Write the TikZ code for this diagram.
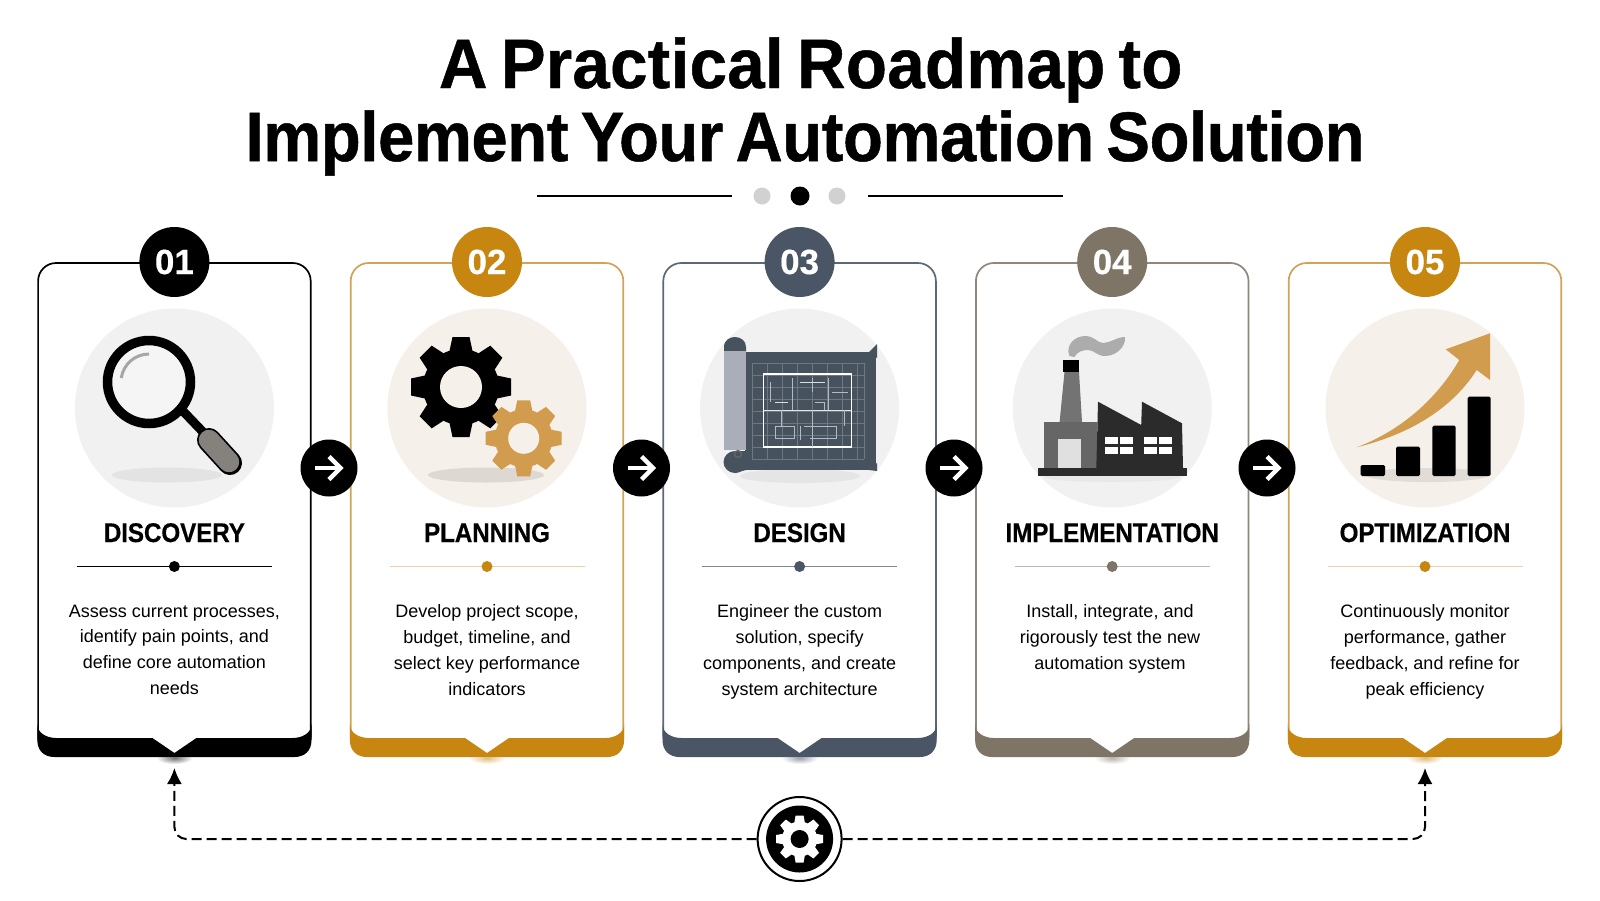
\documentclass[tikz,border=0pt]{standalone}
\usepackage{fontspec}
\usepackage{tikz}
\usetikzlibrary{arrows.meta}
\setmainfont{Liberation Sans}
\newfontfamily\headfonta[FakeBold=0.7,FakeStretch=0.96,LetterSpace=0.5,WordSpace=0.7]{Liberation Sans Bold}
\newfontfamily\headfontb[FakeBold=0.7,FakeStretch=0.93,LetterSpace=-0.5,WordSpace=0.7]{Liberation Sans Bold}
\newfontfamily\numfont[FakeBold=0.4]{Liberation Sans Bold}
\newfontfamily\namefont[FakeBold=0.4,FakeStretch=0.9,LetterSpace=-0.5]{Liberation Sans Bold}

\definecolor{inkblack}{HTML}{000000}
\definecolor{ochre}{HTML}{C6860F}
\definecolor{ochreline}{HTML}{D2A257}
\definecolor{ochrelight}{HTML}{D29C4E}
\definecolor{slate}{HTML}{4A5565}
\definecolor{slateline}{HTML}{5E6875}
\definecolor{taupe}{HTML}{7F7567}
\definecolor{taupeline}{HTML}{8F877B}
\definecolor{discgrey}{HTML}{F1F1F1}
\definecolor{discbeige}{HTML}{F5F0E9}
\definecolor{sheet}{HTML}{47525F}
\definecolor{sheetroll}{HTML}{A9AEB8}
\definecolor{handle}{HTML}{85827E}
\definecolor{sootdark}{HTML}{2B2B2B}

% card outline with its foot, x of the centre, outline colour, foot colour
\newcommand{\stepcard}[3]{
  \begin{scope}[shift={(#1,0)}]
    \shade[inner color=#3!55!white, outer color=white] (0,758) ellipse (18 and 6);
    \draw[#2, line width=1.7, fill=white, rounded corners=18] (-136.3,263) rectangle (136.3,754);
    \fill[#3] (-137.1,724) .. controls (-137.1,733) and (-128,738) .. (-118,738) -- (-22,738) -- (0,753) -- (22,738) -- (118,738)
      .. controls (128,738) and (137.1,733) .. (137.1,724) -- (137.1,740) .. controls (137.1,751) and (130,757) .. (120,757)
      -- (-120,757) .. controls (-130,757) and (-137.1,751) .. (-137.1,740) -- cycle;
  \end{scope}
}
% white arrow inside a round black node
\newcommand{\nextstep}[2]{
  \node[nextdisc] (#2) at (#1,468) {};
  \draw[white, line width=4.5] (#1-14,468) -- (#1+11,468);
  \draw[white, line width=4.5, line join=miter] (#1,456.5) -- (#1+11.5,468) -- (#1,479.5);
}
% gear: x, y, outer radius, root radius, hole radius, colour, hole colour
\newcommand{\gearicon}[7]{
  \begin{scope}[shift={(#1,#2)}]
    \fill[#6] (0,0) circle (#4);
    \foreach \a in {0,45,...,315} {
      \fill[#6, rotate=\a] (-0.23*#3,#4-2) -- (-0.17*#3,#3) -- (0.17*#3,#3) -- (0.23*#3,#4-2) -- cycle;
    }
    \fill[#7] (0,0) circle (#5);
  \end{scope}
}

\begin{document}
\begin{tikzpicture}[x=1pt,y=-1pt]
      \tikzstyle{headlinea}=[font=\headfonta\fontsize{70}{72}\selectfont, anchor=base, inner sep=0]
      \tikzstyle{headlineb}=[font=\headfontb\fontsize{70}{72}\selectfont, anchor=base, inner sep=0]
      \tikzstyle{badge}=[circle, minimum size=70, inner sep=0, text=white, font=\numfont\fontsize{35}{35}\selectfont]
      \tikzstyle{disc}=[circle, minimum size=199, inner sep=0]
      \tikzstyle{stepname}=[font=\namefont\fontsize{27}{27}\selectfont, anchor=base, inner sep=0]
      \tikzstyle{stepdesc}=[font=\fontsize{18}{25.8}\selectfont, align=center, anchor=north, inner sep=0, execute at begin node=\strut]
      \tikzstyle{nextdisc}=[circle, fill=black, minimum size=57, inner sep=0]
      \tikzstyle{tick}=[circle, minimum size=11, inner sep=0]
      \tikzstyle{looppath}=[black, line width=2, dash pattern=on 10pt off 5pt, rounded corners=12, -{Latex[length=16pt,width=15pt]}]

      \useasboundingbox (0,0) rectangle (1600,900);
      \fill[white] (0,0) rectangle (1600,900);

      % title
      \node[headlinea] (title1) at (810.7,88) {A Practical Roadmap to};
      \node[headlineb] (title2) at (805,161) {Implement Your Automation Solution};
      \draw[black, line width=2] (537,196) -- (732,196);
      \draw[black, line width=2] (868,196) -- (1063,196);
      \node[circle, fill=black!18, minimum size=17, inner sep=0] (dotl) at (762,196) {};
      \node[circle, fill=black, minimum size=19, inner sep=0] (dotm) at (800,196) {};
      \node[circle, fill=black!18, minimum size=17, inner sep=0] (dotr) at (837,196) {};

      % cards
      \stepcard{174.4}{inkblack}{inkblack}
      \stepcard{487}{ochreline}{ochre}
      \stepcard{799.6}{slateline}{slate}
      \stepcard{1112.2}{taupeline}{taupe}
      \stepcard{1425}{ochreline}{ochre}

      \node[badge, fill=inkblack] (badge1) at (174.4,262) {01};
      \node[badge, fill=ochre] (badge2) at (487,262) {02};
      \node[badge, fill=slate] (badge3) at (799.6,262) {03};
      \node[badge, fill=taupe] (badge4) at (1112.2,262) {04};
      \node[badge, fill=ochre] (badge5) at (1425,262) {05};

      \node[disc, fill=discgrey] (disc1) at (174.4,408) {};
      \node[disc, fill=discbeige] (disc2) at (487,408) {};
      \node[disc, fill=discgrey] (disc3) at (799.6,408) {};
      \node[disc, fill=discgrey] (disc4) at (1112.2,408) {};
      \node[disc, fill=discbeige] (disc5) at (1425,408) {};

      % magnifier
      \fill[black!11] (167,475) ellipse (55 and 7.5);
      \draw[black, line width=9] (181,409) -- (203,432);
      \draw[black, line width=24, line cap=round] (209,440) -- (230,463);
      \draw[handle, line width=20.5, line cap=round] (209,440) -- (229,462);
      \draw[black, line width=9.5, fill=white!96!black] (149,382) circle (41.5);
      \draw[black!35, line width=3] (149,354) arc (-90:-172:28);

      % gears
      \fill[black!10!discbeige] (486,475) ellipse (58 and 7.5);
      \gearicon{461}{387}{50}{38}{21}{black}{discbeige}
      \gearicon{523.7}{438.3}{38}{29}{15.5}{ochrelight}{discbeige}

      % blueprint
      \fill[black!10] (800,476) ellipse (60 and 7);
      \fill[sheet] (745,352) -- (876,352) -- (876,470) -- (745,470) -- cycle;
      \fill[sheet] (869,352) -- (877,344) -- (877,358) -- cycle;
      \fill[sheet] (869,470) -- (877,463) -- (877,471) -- cycle;
      \fill[sheet] (724,355) -- (724,347) .. controls (724,340) and (730,337) .. (735,337) .. controls (741,337) and (746,341) .. (746,347) -- (746,355) -- cycle;
      \fill[sheetroll] (724,351) -- (746,351) -- (746,450) -- (724,450) -- cycle;
      \fill[sheet] (735,462) ellipse (11.5 and 11);
      \fill[sheet] (735,451) -- (746,451) -- (746,470) -- (735,473) -- cycle;
      \draw[black!60, line width=1.2] (738,454) circle (3.5);
      \foreach \gx in {752,767,...,864} {
        \draw[white!22!sheet, line width=0.6] (\gx,363) -- (\gx,459);
      }
      \foreach \gy in {363,375,...,459} {
        \draw[white!22!sheet, line width=0.6] (752,\gy) -- (864,\gy);
      }
      \draw[white!22!sheet, line width=0.6] (864,363) -- (864,459);
      \draw[white, line width=1.8] (763.5,374) rectangle (851.5,447);
      \draw[white!85!sheet, line width=1] (764,410) -- (851,410);
      \draw[white!60!sheet, line width=0.8] (770,382) -- (770,402);
      \draw[white!60!sheet, line width=0.8] (792,378) -- (792,410);
      \draw[white!60!sheet, line width=0.8] (812,378) -- (812,392);
      \draw[white!60!sheet, line width=0.8] (828,378) -- (828,410);
      \draw[white!80!sheet, line width=1] (800,382) -- (825,382);
      \draw[white!80!sheet, line width=1] (775,402) -- (788,402);
      \draw[white!60!sheet, line width=0.8] (815,402) -- (824,402) -- (824,410);
      \draw[white!60!sheet, line width=0.8] (832,392) -- (848,392);
      \draw[white!60!sheet, line width=0.8] (781,410) -- (781,426) -- (775,426) -- (775,438) -- (794,438) -- (794,426) -- (781,426);
      \draw[white!60!sheet, line width=0.8] (804,426) -- (836,426) -- (836,438) -- (810,438);
      \draw[white!60!sheet, line width=0.8] (812,410) -- (812,447);
      \draw[white!60!sheet, line width=0.8] (844,410) -- (844,426);
      \draw[white!60!sheet, line width=0.8] (800,426) -- (800,440);

      % factory
      \fill[black!9] (1112,477) ellipse (68 and 5);
      \fill[gray!65!white] (1069.4,356) .. controls (1065,345) and (1075,336) .. (1085,336) .. controls (1095,336) and (1097,343) .. (1103,343) .. controls (1110,343) and (1117,337) .. (1125,337) .. controls (1126,347) and (1116,356) .. (1105,356) .. controls (1097,356) and (1094,350) .. (1088,350) .. controls (1082,350) and (1077,352) .. (1074.5,357) -- cycle;
      \fill[gray!90!black] (1064.5,372) -- (1079,372) -- (1082,422) -- (1059.6,422) -- cycle;
      \fill[black] (1062.5,360) rectangle (1079,372);
      \fill[black!60] (1044,421.7) rectangle (1096.5,468);
      \fill[black!12] (1058,439) rectangle (1081,468);
      \fill[sootdark] (1096.3,468) -- (1098,401.7) -- (1141.2,425) -- (1142,401.7) -- (1182,423.3) -- (1183,468) -- cycle;
      \fill[sootdark] (1038,467.7) rectangle (1187,476);
      \fill[white] (1105.3,437.3) rectangle (1117.9,444.3);
      \fill[white] (1120.4,437.3) rectangle (1133,444.3);
      \fill[white] (1105.3,446.8) rectangle (1117.9,453.8);
      \fill[white] (1120.4,446.8) rectangle (1133,453.8);
      \fill[white] (1144,437.3) rectangle (1156.6,444.3);
      \fill[white] (1159.1,437.3) rectangle (1171.7,444.3);
      \fill[white] (1144,446.8) rectangle (1156.6,453.8);
      \fill[white] (1159.1,446.8) rectangle (1171.7,453.8);

      % chart
      \fill[black!8!discbeige] (1427,475) ellipse (62 and 7);
      \fill[ochrelight] (1356.7,447.3) .. controls (1406.7,428.3) and (1440,393.3) .. (1459.3,360) -- (1445.7,349.3) -- (1490,333.3) -- (1490,380) -- (1476.7,370) .. controls (1453.3,406.7) and (1413,433.3) .. cycle;
      \fill[black, rounded corners=1.5] (1360.7,465) rectangle (1385,476);
      \fill[black, rounded corners=1.5] (1396,446.7) rectangle (1420,476);
      \fill[black, rounded corners=1.5] (1432.3,425.7) rectangle (1455.7,476);
      \fill[black, rounded corners=1.5] (1467.7,396.7) rectangle (1490.7,476);

      % names
      \node[stepname] (name1) at (174.4,542) {DISCOVERY};
      \node[stepname] (name2) at (487,542) {PLANNING};
      \node[stepname] (name3) at (799.6,542) {DESIGN};
      \node[stepname] (name4) at (1112.2,542) {IMPLEMENTATION};
      \node[stepname] (name5) at (1425,542) {OPTIMIZATION};

      % rules under the names
      \draw[black, line width=1.3] (77,566.5) -- (272,566.5);
      \draw[ochreline!50!white, line width=1.3] (389.5,566.5) -- (584.5,566.5);
      \draw[slateline!80!white, line width=1.3] (702,566.5) -- (897,566.5);
      \draw[taupeline!60!white, line width=1.3] (1014.7,566.5) -- (1209.7,566.5);
      \draw[ochreline!50!white, line width=1.3] (1327.5,566.5) -- (1522.5,566.5);
      \node[tick, fill=inkblack] (tick1) at (174.4,566.5) {};
      \node[tick, fill=ochre] (tick2) at (487,566.5) {};
      \node[tick, fill=slate] (tick3) at (799.6,566.5) {};
      \node[tick, fill=taupe] (tick4) at (1112.2,566.5) {};
      \node[tick, fill=ochre] (tick5) at (1425,566.5) {};

      % descriptions
      \node[stepdesc] (desc1) at (174.4,604.5) {Assess current processes,\\identify pain points, and\\define core automation\\needs};
      \node[stepdesc] (desc2) at (487,604.5) {Develop project scope,\\budget, timeline, and\\select key performance\\indicators};
      \node[stepdesc] (desc3) at (799.6,604.5) {Engineer the custom\\solution, specify\\components, and create\\system architecture};
      \node[stepdesc] (desc4) at (1110,604.5) {Install, integrate, and\\rigorously test the new\\automation system};
      \node[stepdesc] (desc5) at (1425,604.5) {Continuously monitor\\performance, gather\\feedback, and refine for\\peak efficiency};

      % arrows between the cards
      \nextstep{329}{next1}
      \nextstep{641.5}{next2}
      \nextstep{954}{next3}
      \nextstep{1267}{next4}

      % loop under the cards
      \node[circle, draw=black, line width=2, fill=white, minimum size=84, inner sep=0] (hub) at (799.6,839) {};
      \coordinate (back1) at (174.4,768);
      \coordinate (back5) at (1425,768);
      \draw[looppath] (hub) -| (back1);
      \draw[looppath] (hub) -| (back5);
      \node[circle, fill=black, minimum size=67, inner sep=0] (hubcore) at (799.6,839) {};
      \gearicon{799.6}{839}{23.5}{17.5}{9}{white}{black}
\end{tikzpicture}
\end{document}
